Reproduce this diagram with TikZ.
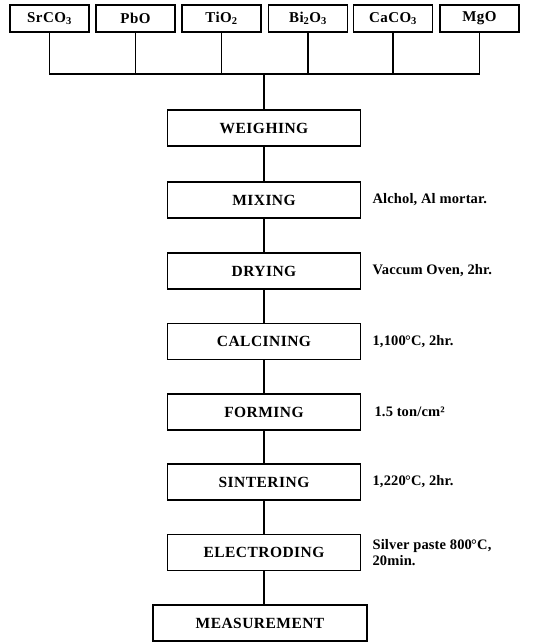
\documentclass[tikz,border=0pt]{standalone}
\usepackage{fontspec}
\setmainfont{Liberation Serif}
\begin{document}
\begin{tikzpicture}[x=1pt,y=-1pt,
  line width=1.2pt,
  raw/.style={draw,minimum width=79pt,minimum height=27pt,inner sep=0pt,font=\fontsize{15}{17}\selectfont\bfseries\addfontfeature{LetterSpace=3}},
  stepbox/.style={draw,minimum width=193pt,minimum height=36pt,inner sep=0pt,font=\fontsize{15.5}{17}\selectfont\bfseries\addfontfeature{LetterSpace=3}},
  note/.style={anchor=west,inner sep=0pt,align=left,font=\fontsize{14.5}{16}\selectfont\bfseries\addfontfeature{LetterSpace=1}}]
\useasboundingbox (0,0) rectangle (533,643);
% raw materials
\node[raw] (sr) at (49.5,18.5) {SrCO\textsubscript{3}};
\node[raw] (pb) at (135.5,18.5) {PbO};
\node[raw] (ti) at (221.5,18.5) {TiO\textsubscript{2}};
\node[raw] (bi) at (308,18.5) {Bi\textsubscript{2}O\textsubscript{3}};
\node[raw] (ca) at (393,18.5) {CaCO\textsubscript{3}};
\node[raw] (mg) at (479.5,18.5) {MgO};
\coordinate (hub) at (264,74);
% steps
\node[stepbox] (weigh) at (264,128) {WEIGHING};
\node[stepbox] (mix) at (264,200) {MIXING};
\node[stepbox] (dry) at (264,271) {DRYING};
\node[stepbox] (calc) at (264,341.5) {CALCINING};
\node[stepbox] (form) at (264,412) {FORMING};
\node[stepbox] (sint) at (264,482) {SINTERING};
\node[stepbox] (elec) at (264,552.5) {ELECTRODING};
\node[stepbox,minimum width=214pt] (meas) at (260,623) {MEASUREMENT};
% notes
\node[note] (nmix) at (372,200) {Alchol, Al mortar.};
\node[note] (ndry) at (372,271) {Vaccum Oven, 2hr.};
\node[note] (ncalc) at (372,341.5) {1,100\kern-0.05em°C, 2hr.};
\node[note] (nform) at (374,412) {1.5 ton/cm²};
\node[note] (nsint) at (372,482) {1,220\kern-0.05em°C, 2hr.};
\node[note] (nelec) at (372,553) {Silver paste 800\kern-0.05em°C,\\20min.};
% connectors
\draw (sr.south) |- (hub) -| (mg.south);
\draw (pb.south) -- (pb.south |- hub);
\draw (ti.south) -- (ti.south |- hub);
\draw (bi.south) -- (bi.south |- hub);
\draw (ca.south) -- (ca.south |- hub);
\draw (hub) -- (weigh.north);
\draw (weigh) -- (mix);
\draw (mix) -- (dry);
\draw (dry) -- (calc);
\draw (calc) -- (form);
\draw (form) -- (sint);
\draw (sint) -- (elec);
\draw (elec.south) -- (elec.south |- meas.north);
\end{tikzpicture}
\end{document}
